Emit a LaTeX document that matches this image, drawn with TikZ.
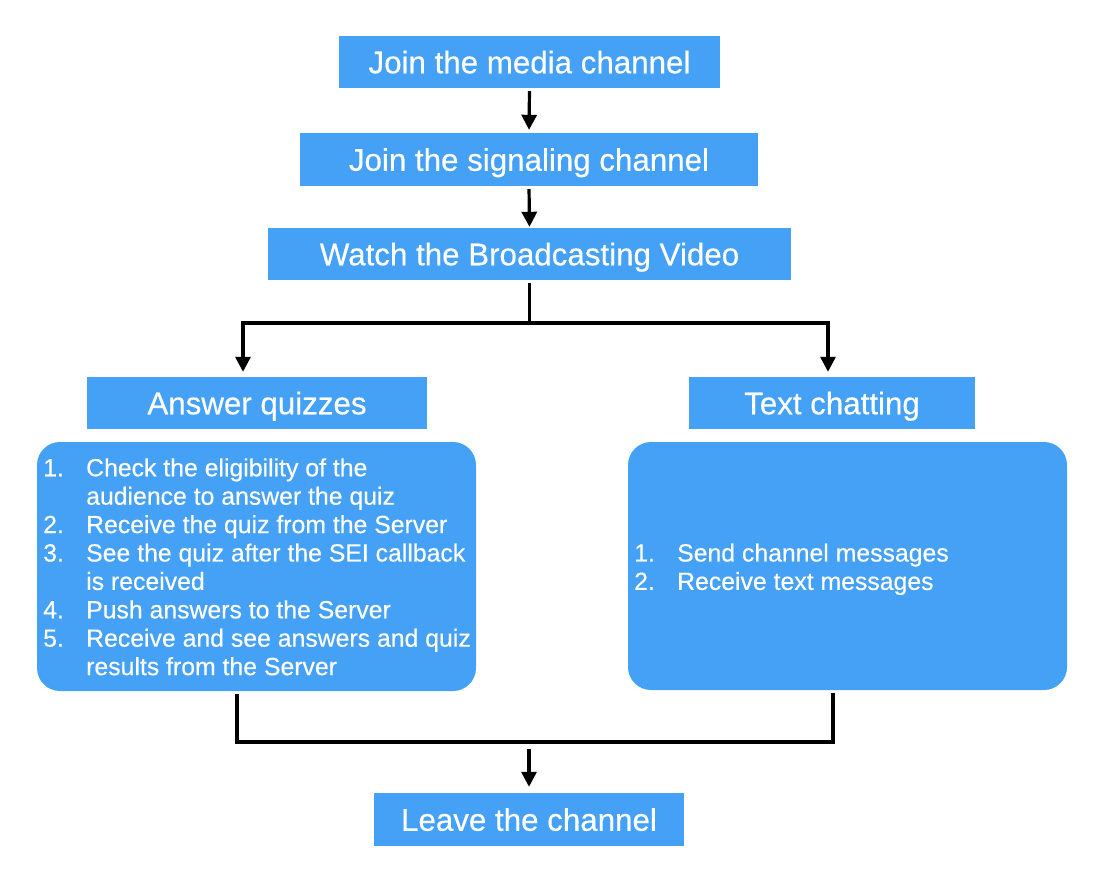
\documentclass[tikz,border=0pt]{standalone}
\usepackage{fontspec}
\setmainfont{Liberation Sans}[FakeBold=0.4]
\usetikzlibrary{arrows.meta}
\definecolor{boxblue}{RGB}{69,161,245}
\begin{document}
\begin{tikzpicture}[x=1pt,y=-1pt,
  title/.style={fill=boxblue, text=white, minimum height=52pt, inner sep=0pt,
    font=\fontsize{31.3}{36}\selectfont, text height=22.5pt, text depth=0pt},
  listbox/.style={fill=boxblue, rounded corners=23pt, minimum width=439pt,
    minimum height=249pt, inner sep=0pt},
  listtext/.style={text=white, anchor=west, inner sep=0pt, align=left,
    font=\fontsize{24.8}{28.4}\selectfont},
  link/.style={line width=3.2pt, black},
  arr/.style={link, -{Triangle[width=15pt,length=15pt]}}]
\useasboundingbox (0,0) rectangle (1098,884);

\node[title, minimum width=381pt] (b1) at (529.5,62) {Join the media channel};
\node[title, minimum width=458pt, minimum height=53pt] (b2) at (529,159.5) {Join the signaling channel};
\node[title, minimum width=523pt] (b3) at (529.5,254) {Watch the Broadcasting Video};
\node[title, minimum width=340pt] (aq) at (257,403) {Answer quizzes};
\node[title, minimum width=286pt] (tc) at (832,403) {Text chatting};
\node[title, minimum width=310pt, minimum height=53pt] (lv) at (529,819.5) {Leave the channel};

\node[listbox] (ql) at (256.5,566.5) {};
\node[listbox, minimum height=248pt] (cl) at (847.5,566) {};
\node[listtext] (qt) at (43,570) {\begin{tabular}{@{}p{43pt}@{}l@{}}
1. & Check the eligibility of the\\
   & audience to answer the quiz\\
2. & Receive the quiz from the Server\\
3. & See the quiz after the SEI callback\\
   & is received\\
4. & Push answers to the Server\\
5. & Receive and see answers and quiz\\
   & results from the Server
\end{tabular}};
\node[listtext] (ct) at (634,570) {\begin{tabular}{@{}p{43pt}@{}l@{}}
1. & Send channel messages\\
2. & Receive text messages
\end{tabular}};

\draw[arr, shorten <=3pt, shorten >=3pt] (b1.south) -- (b2.north);
\draw[arr, shorten <=3pt, shorten >=1pt] (b2.south) -- (b3.north);

\coordinate (sm) at (529.5,323);
\coordinate (sl) at (243,323);
\coordinate (sr) at (828,323);
\draw[link, shorten <=3pt] (b3.south) -- (sm);
\draw[link, line cap=rect] (sl) -- (sr);
\draw[arr, shorten >=5pt] (sl) -- (sl |- aq.north);
\draw[arr, shorten >=5pt] (sr) -- (sr |- tc.north);

\coordinate (jl) at (237,742);
\coordinate (jr) at (833,742);
\coordinate (jm) at (529,742);
\draw[link, shorten <=3pt] (jl |- ql.south) -- (jl);
\draw[link, shorten <=3pt] (jr |- cl.south) -- (jr);
\draw[link, line cap=rect] (jl) -- (jr);
\draw[arr, shorten <=7pt, shorten >=6pt] (jm) -- (lv.north);
\end{tikzpicture}
\end{document}
